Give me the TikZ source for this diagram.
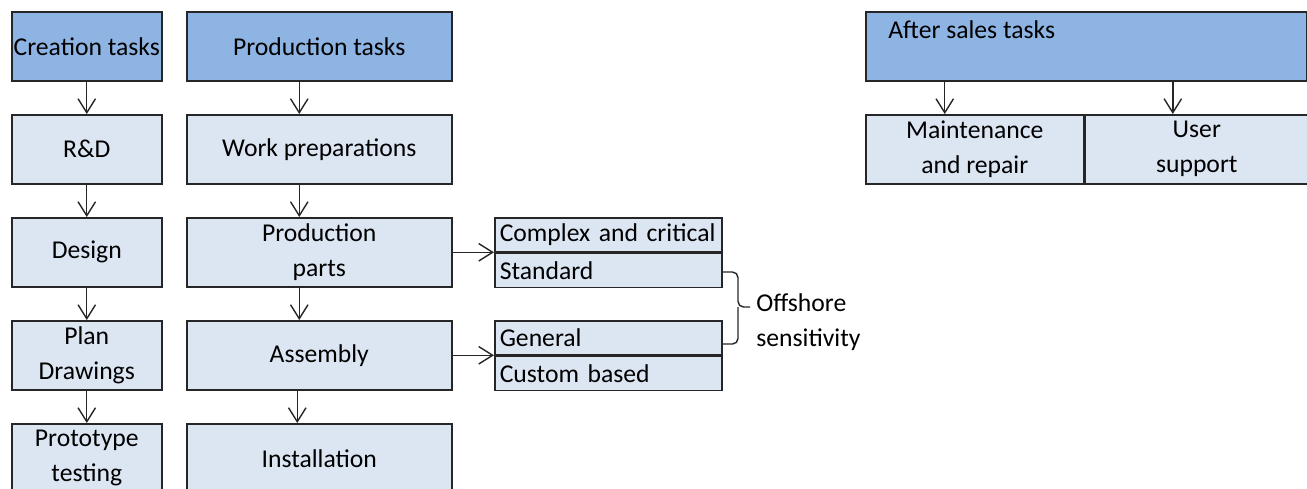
\documentclass[tikz,border=0pt]{standalone}
\usepackage{fontspec}
\setmainfont{Carlito}
\usepackage{xcolor}
\usepackage{tikz}
\usetikzlibrary{arrows.meta,positioning,calc}
\definecolor{headblue}{HTML}{8EB4E3}
\definecolor{boxblue}{HTML}{DCE6F2}
\definecolor{edge}{HTML}{262626}

\begin{document}
\begin{tikzpicture}[x=0.02cm,y=-0.02cm,
		font=\fontsize{14.6pt}{19.9pt}\selectfont,
		box/.style={draw=edge,line width=0.9pt,fill=boxblue,anchor=north west,inner sep=0pt,align=center,minimum height=1.38cm},
		head/.style={box,fill=headblue},
		sub/.style={box,minimum height=0.68cm,minimum width=4.54cm,text width=4.34cm,align=left},
		arr/.style={-{Straight Barb[length=2.8mm,width=3.5mm]},line width=0.8pt,draw=edge}]
	\clip (0,0) rectangle (1307,488);
		\node[head,minimum width=3cm] (creation) at (11,11) {Creation tasks};
		\node[box,minimum width=3cm] (rd) at (11,114) {R\&D};
		\node[box,minimum width=3cm] (design) at (11,217) {Design};
		\node[box,minimum width=3cm] (plan) at (11,320) {Plan\\Drawings};
		\node[box,minimum width=3cm] (proto) at (11,423) {Prototype\\testing};
			\draw[arr] (creation) -- (rd);
			\draw[arr] (rd) -- (design);
			\draw[arr] (design) -- (plan);
			\draw[arr] (plan) -- (proto);
		\node[head,minimum width=5.3cm] (prodtasks) at (186,11) {Production tasks};
		\node[box,minimum width=5.3cm] (workprep) at (186,114) {Work preparations};
		\node[box,minimum width=5.3cm] (parts) at (186,217) {Production\\parts};
		\node[box,minimum width=5.3cm] (assembly) at (186,320) {Assembly};
		\node[box,minimum width=5.3cm] (install) at (186,423) {Installation};
			\draw[arr] ([xshift=-0.4cm]prodtasks.south) -- ([xshift=-0.4cm]workprep.north);
			\draw[arr] ([xshift=-0.4cm]workprep.south) -- ([xshift=-0.4cm]parts.north);
			\draw[arr] ([xshift=-0.4cm]parts.south) -- ([xshift=-0.4cm]assembly.north);
			\draw[arr] ([xshift=-0.44cm]assembly.south) -- ([xshift=-0.44cm]install.north);
		\node[sub] (complex) at (494,217) {Complex and critical};
		\node[sub,below=0pt of complex] (standard) {Standard};
		\node[sub] (general) at (494,320) {General};
		\node[sub,below=0pt of general] (custom) {Custom based};
			\draw[arr] (parts.east) -- (parts.east -| complex.west);
			\draw[arr] (assembly.east) -- (assembly.east -| general.west);
		\draw[line width=0.8pt,draw=edge,rounded corners=1.1mm] (723,272) -| (738,307) -- (750,307);
		\draw[line width=0.8pt,draw=edge,rounded corners=1.1mm] (723,344) -| (738,307);
			\node[anchor=west,align=left,inner sep=0pt] (offshore) at (756,322) {Offshore\\sensitivity};
		\node[head,minimum width=8.82cm,label={[anchor=west,inner sep=0pt,xshift=0.46cm,yshift=-0.38cm]north west:After sales tasks}] (aftersales) at (865,11) {};
		\node[box,minimum width=4.36cm] (maint) at (865,114) {Maintenance\\and repair};
		\node[box,minimum width=4.46cm,right=0pt of maint] (usersup) {User\\support};
			\draw[arr] ($(maint.north |- aftersales.south)+(-30,0)$) -- ($(maint.north)+(-30,0)$);
			\draw[arr] ($(usersup.north |- aftersales.south)+(-24,0)$) -- ($(usersup.north)+(-24,0)$);
\end{tikzpicture}
\end{document}
